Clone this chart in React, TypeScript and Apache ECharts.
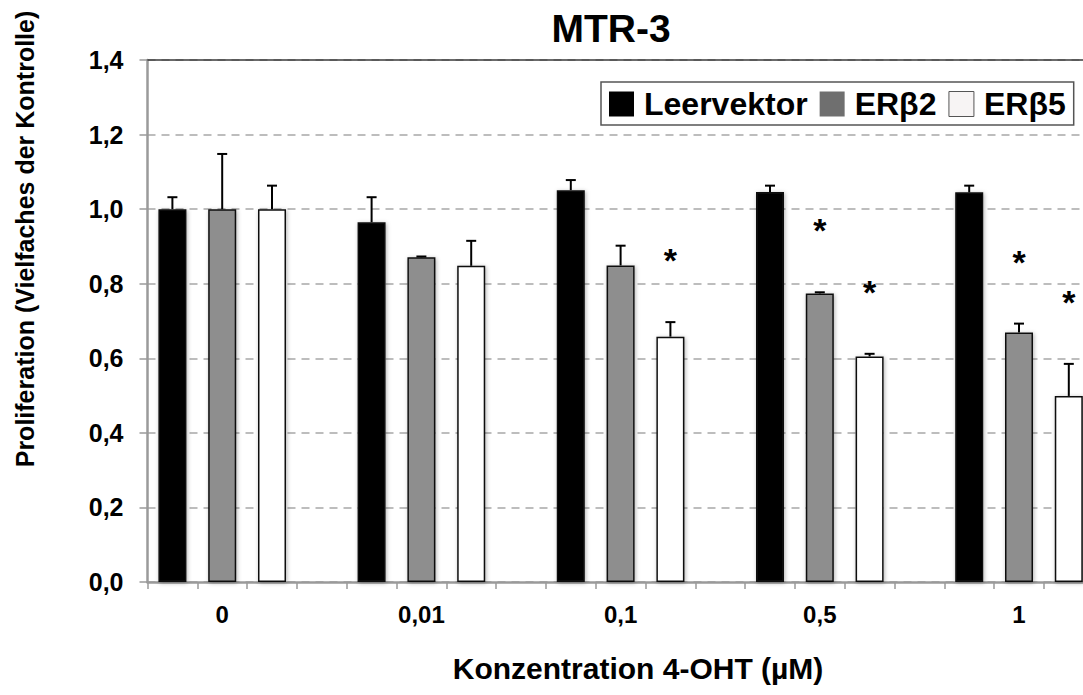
import React, { useEffect, useRef } from "react";
import * as echarts from "echarts";

// Concentrations of 4-OHT (µM) on the x axis
const concentrations = ["0", "0,01", "0,1", "0,5", "1"];
const seriesNames = ["Leervektor", "ERβ2", "ERβ5"];

// Proliferation relative to control (mean values)
const leervektor = [1.0, 0.965, 1.051, 1.046, 1.045];
const erb2 = [1.0, 0.871, 0.849, 0.774, 0.669];
const erb5 = [1.0, 0.848, 0.658, 0.605, 0.499];

// Upper error (standard deviation)
const leervektorErr = [0.032, 0.067, 0.027, 0.017, 0.018];
const erb2Err = [0.148, 0.002, 0.053, 0.003, 0.024];
const erb5Err = [0.063, 0.067, 0.039, 0.007, 0.086];

// Significance markers (*)
const leervektorSig = [false, false, false, false, false];
const erb2Sig = [false, false, false, true, true];
const erb5Sig = [false, false, true, true, true];

// Value axis range
const yMin = 0;
const yMax = 1.4;
const yStep = 0.2;

const FONT = "'Liberation Sans', Arial, Helvetica, sans-serif";
const SLOTS_PER_GROUP = 4; // three bars and one empty slot per concentration
const SLOT_WIDTH = 49.8;

const means = [leervektor, erb2, erb5];
const errors = [leervektorErr, erb2Err, erb5Err];
const significance = [leervektorSig, erb2Sig, erb5Sig];
const fills = ["#000000", "#8e8e8e", "#ffffff"];
const legendFills = ["#000000", "#6f6f6f", "#f7f4f4"];

const slotLabels: string[] = [];
concentrations.forEach((c) => {
  for (let s = 0; s < SLOTS_PER_GROUP; s++) slotLabels.push(`${c}#${s}`);
});

function slotSeries(values: number[], seriesIndex: number) {
  const out: (number | string)[] = [];
  concentrations.forEach((_, ci) => {
    for (let s = 0; s < SLOTS_PER_GROUP; s++) out.push(s === seriesIndex ? values[ci] : "-");
  });
  return out;
}

export default function App() {
  const ref = useRef<HTMLDivElement>(null);

  useEffect(() => {
    if (!ref.current) return;
    const chart = echarts.init(ref.current, undefined, { renderer: "svg" });

    const barSeries = seriesNames.map((name, i) => ({
      name,
      type: "bar",
      xAxisIndex: 0,
      data: slotSeries(means[i], i),
      barWidth: 28,
      barGap: "-100%",
      itemStyle: {
        color: fills[i],
        borderColor: "#111",
        borderWidth: 1.5,
        shadowBlur: 4,
        shadowColor: "rgba(0,0,0,0.3)",
        shadowOffsetX: 1,
        shadowOffsetY: 1,
      },
      emphasis: { disabled: true },
      z: 2,
    }));

    const errData: number[][] = [];
    const starData: number[][] = [];
    seriesNames.forEach((_, si) => {
      concentrations.forEach((__, ci) => {
        const slot = ci * SLOTS_PER_GROUP + si;
        const top = means[si][ci] + errors[si][ci];
        errData.push([slot, means[si][ci], top]);
        if (significance[si][ci]) starData.push([slot, top]);
      });
    });

    chart.setOption({
      animation: false,
      textStyle: { fontFamily: FONT },
      title: {
        text: "MTR-3",
        left: 606,
        top: 4,
        textAlign: "center",
        textStyle: { fontFamily: FONT, fontWeight: "bold", fontSize: 39, color: "#000" },
      },
      legend: {
        left: 601,
        top: 82,
        orient: "horizontal",
        padding: [6, 8, 5, 8],
        borderColor: "#555",
        borderWidth: 1.5,
        itemWidth: 25,
        itemHeight: 25,
        itemGap: 12,
        icon: "rect",
        selectedMode: false,
        data: seriesNames.map((name, i) => ({
          name,
          itemStyle: { color: legendFills[i], borderColor: "#555", borderWidth: i === 2 ? 1 : 0 },
        })),
        textStyle: {
          fontFamily: FONT,
          fontWeight: "bold",
          fontSize: 32,
          color: "#000",
          padding: [0, 0, 0, 5],
        },
      },
      grid: {
        left: 147.5,
        top: 60,
        width: SLOT_WIDTH * SLOTS_PER_GROUP * concentrations.length,
        height: 522,
        containLabel: false,
        outerBoundsMode: "none",
      },
      xAxis: [
        {
          type: "category",
          data: slotLabels,
          position: "bottom",
          axisLine: { show: true, lineStyle: { color: "#9a9a9a", width: 2.5 } },
          axisTick: { show: true, interval: 0, length: 7, lineStyle: { color: "#9a9a9a", width: 1.5 } },
          axisLabel: {
            interval: 0,
            margin: 20,
            fontFamily: FONT,
            fontWeight: "bold",
            fontSize: 24,
            color: "#000",
            formatter: (_v: string, idx: number) =>
              idx % SLOTS_PER_GROUP === 1 ? concentrations[Math.floor(idx / SLOTS_PER_GROUP)] : "",
          },
          splitLine: { show: false },
        },
        {
          type: "category",
          data: slotLabels,
          position: "top",
          axisLine: { show: true, lineStyle: { color: "#3a3a3a", width: 1.5 } },
          axisTick: { show: false },
          axisLabel: { show: false },
          splitLine: { show: false },
        },
      ],
      yAxis: {
        type: "value",
        min: yMin,
        max: yMax,
        interval: yStep,
        axisLine: { show: true, lineStyle: { color: "#9a9a9a", width: 2.5 } },
        axisTick: { show: true, length: 8, lineStyle: { color: "#9a9a9a", width: 1.5 } },
        axisLabel: {
          margin: 24,
          fontFamily: FONT,
          fontWeight: "bold",
          fontSize: 25,
          color: "#000",
          formatter: (v: number) => v.toFixed(1).replace(".", ","),
        },
        splitLine: {
          show: true,
          lineStyle: { color: "#a8a8a8", width: 1.5, type: [8, 6] },
        },
      },
      graphic: [
        {
          type: "text",
          x: 25,
          y: 239,
          rotation: Math.PI / 2,
          style: {
            text: "Proliferation (Vielfaches der Kontrolle)",
            font: `bold 25px ${FONT}`,
            fill: "#000",
            textAlign: "center",
            textVerticalAlign: "middle",
          },
        },
        {
          type: "text",
          x: 638,
          y: 668,
          style: {
            text: "Konzentration 4-OHT (µM)",
            font: `bold 30px ${FONT}`,
            fill: "#000",
            textAlign: "center",
            textVerticalAlign: "middle",
          },
        },
      ],
      series: [
        ...barSeries,
        {
          type: "custom",
          name: "errors",
          xAxisIndex: 0,
          data: errData,
          z: 3,
          silent: true,
          renderItem: (_params: any, api: any) => {
            const base = api.coord([api.value(0), api.value(1)]);
            const top = api.coord([api.value(0), api.value(2)]);
            const stroke = { stroke: "#000", lineWidth: 2 };
            return {
              type: "group",
              children: [
                { type: "line", shape: { x1: base[0], y1: base[1], x2: top[0], y2: top[1] }, style: stroke },
                { type: "line", shape: { x1: top[0] - 5, y1: top[1], x2: top[0] + 5, y2: top[1] }, style: stroke },
              ],
            };
          },
        },
        {
          type: "custom",
          name: "significance",
          xAxisIndex: 0,
          data: starData,
          z: 4,
          silent: true,
          renderItem: (_params: any, api: any) => {
            const top = api.coord([api.value(0), api.value(1)]);
            return {
              type: "text",
              x: top[0],
              y: top[1] - 62,
              style: {
                text: "*",
                font: `bold 34px ${FONT}`,
                fill: "#000",
                textAlign: "center",
                textVerticalAlign: "middle",
              },
            };
          },
        },
      ],
    });

    return () => chart.dispose();
  }, []);

  return (
    <div
      ref={ref}
      style={{ position: "absolute", left: 0, top: 0, width: 1083, height: 695, background: "#fff" }}
    />
  );
}
